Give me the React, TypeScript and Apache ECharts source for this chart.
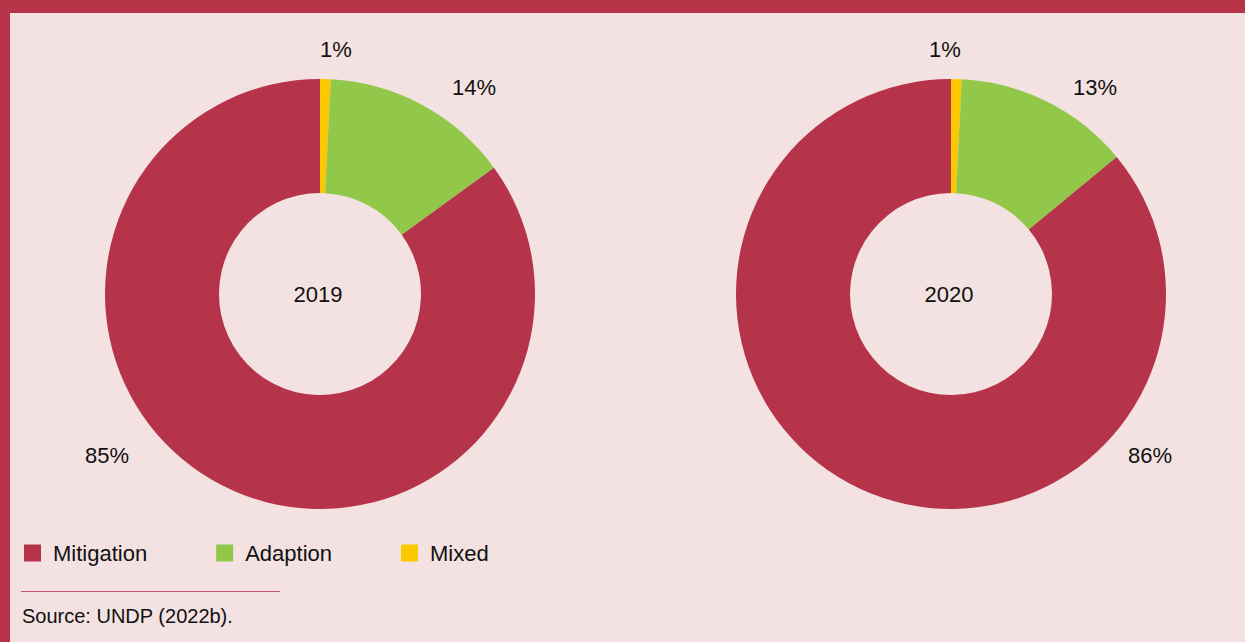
import React, { useEffect, useRef } from "react";
import * as echarts from "echarts";

const categories = ["Mixed", "Adaption", "Mitigation"];
const legendOrder = ["Mitigation", "Adaption", "Mixed"];
const years = ["2019", "2020"];
const values2019 = [0.8, 14.2, 85];
const values2020 = [0.8, 13.2, 86];
const colors = ["#fcc900", "#92c84a", "#b63449"];
const sourceText = "Source: UNDP (2022b).";

const FONT = "'Liberation Sans', Arial, sans-serif";

// label positions (centre) per series / data index
const labelPos = [
  [[336, 49], [474, 87], [107, 455]],
  [[945, 49], [1095, 87], [1150, 455]],
];

export default function App() {
  const ref = useRef<HTMLDivElement>(null);
  useEffect(() => {
    document.body.style.margin = "0";
    const chart = echarts.init(ref.current!, null, { renderer: "svg" });
    const centers = [
      [320, 294],
      [951, 294],
    ];
    const seriesData = [values2019, values2020];
    chart.setOption({
      animation: false,
      backgroundColor: "#f3e2e1",
      color: colors,
      legend: {
        data: legendOrder,
        left: 24,
        top: 542,
        padding: 0,
        itemWidth: 17,
        itemHeight: 17,
        itemGap: 69,
        icon: "rect",
        selectedMode: false,
        textStyle: {
          fontFamily: FONT,
          fontSize: 22,
          color: "#111",
          padding: [0, 0, 0, 7],
        },
      },
      graphic: [
        { type: "rect", shape: { x: 0, y: 0, width: 1245, height: 13 }, style: { fill: "#b73347" } },
        { type: "rect", shape: { x: 0, y: 0, width: 10, height: 642 }, style: { fill: "#b73347" } },
        {
          type: "line",
          shape: { x1: 21, y1: 591.5, x2: 280, y2: 591.5 },
          style: { stroke: "#c9566a", lineWidth: 1 },
        },
        {
          type: "text",
          x: 22,
          y: 616,
          style: {
            text: sourceText,
            fontFamily: FONT,
            fontSize: 20,
            fill: "#111",
            verticalAlign: "middle",
          },
        },
        ...years.map((y, i) => ({
          type: "text",
          x: centers[i][0] - 2,
          y: centers[i][1],
          style: {
            text: y,
            fontFamily: FONT,
            fontSize: 22,
            fill: "#111",
            align: "center",
            verticalAlign: "middle",
          },
        })),
      ],
      series: years.map((y, si) => ({
        type: "pie",
        name: y,
        center: centers[si],
        radius: [101, 215],
        startAngle: 90,
        clockwise: true,
        emphasis: { disabled: true },
        silent: true,
        label: {
          show: true,
          position: "outside",
          fontFamily: FONT,
          fontSize: 22,
          color: "#111",
          formatter: (p: any) => Math.round(p.value) + "%",
        },
        labelLine: { show: false },
        labelLayout: (params: any) => {
          const pos = labelPos[si][params.dataIndex];
          return { x: pos[0], y: pos[1], align: "center", verticalAlign: "middle", hideOverlap: false };
        },
        data: categories.map((c, i) => ({ name: c, value: seriesData[si][i] })),
      })),
    });
    return () => chart.dispose();
  }, []);
  return <div ref={ref} style={{ position: "absolute", left: 0, top: 0, width: 1245, height: 642 }} />;
}
